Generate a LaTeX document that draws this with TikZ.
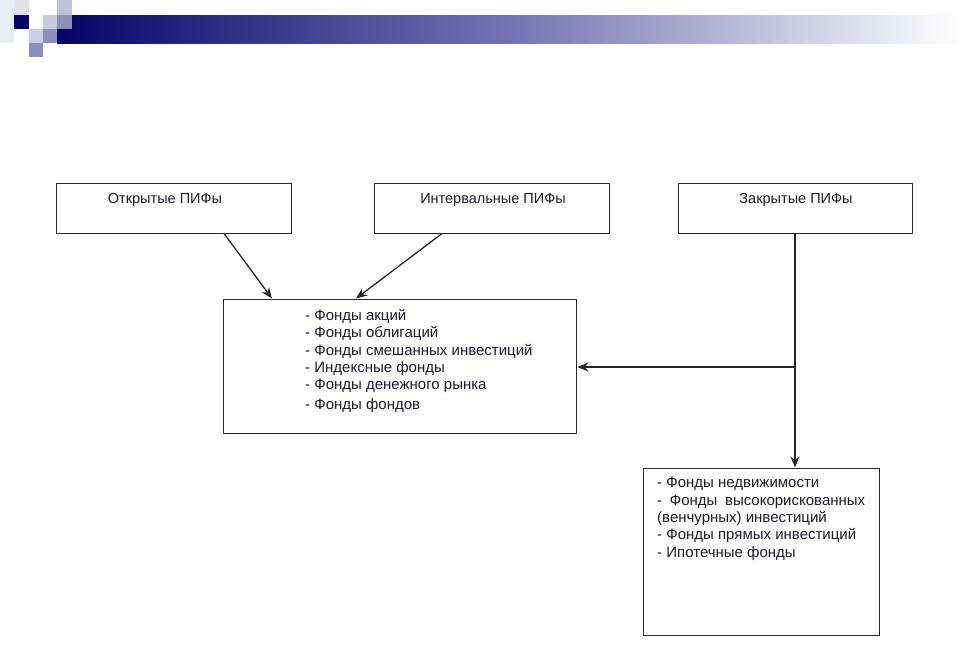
\documentclass[tikz,border=0pt]{standalone}
\usepackage{fontspec}
\setmainfont{Liberation Sans}
\usetikzlibrary{arrows.meta}
\definecolor{navy}{RGB}{5,5,105}
\definecolor{midbar}{RGB}{115,115,180}
\definecolor{boxline}{RGB}{40,40,40}
\definecolor{txt}{RGB}{30,25,40}
\tikzset{
  boxnode/.style={draw=boxline, line width=1.4pt, fill=white, inner sep=0pt, anchor=north west},
  title/.style={font=\fontsize{14.5}{16}\selectfont, text=txt, inner sep=0pt},
  listtext/.style={font=\fontsize{15}{17.4}\selectfont, text=txt, inner sep=0pt, align=left, anchor=north west},
  conn/.style={draw=black!85, line width=1.3pt, -{Stealth[length=11pt,width=9pt]}},
}
\begin{document}
\begin{tikzpicture}[x=1pt,y=-1pt]
\useasboundingbox (0,0) rectangle (960,656);
\fill[white] (0,0) rectangle (960,656);
% banner
\shade[left color=navy, right color=white, middle color=midbar] (57,15) rectangle (960,43);
\fill[navy!8] (0,0) rectangle (14,43);
\fill[navy!12] (14,0) rectangle (29,15);
\fill[navy] (14,15) rectangle (29,29);
\fill[navy!25] (57,0) rectangle (72,15);
\fill[navy!22] (43,15) rectangle (57,29);
\fill[navy!45] (57,15) rectangle (72,29);
\fill[navy!20] (29,29) rectangle (43,43);
\fill[navy!45] (43,29) rectangle (57,43);
\fill[navy!45] (29,43) rectangle (43,57);
% boxes
\node[boxnode, minimum width=235pt, minimum height=50pt] (open) at (56,183) {};
\node[boxnode, minimum width=235pt, minimum height=50pt] (interval) at (374,183) {};
\node[boxnode, minimum width=234pt, minimum height=50pt] (closed) at (678,183) {};
\node[boxnode, minimum width=353pt, minimum height=134pt] (mid) at (223,299) {};
\node[boxnode, minimum width=236pt, minimum height=167pt] (bottom) at (643,468) {};
% titles
\node[title] (topen) at (165,200) {Открытые ПИФы};
\node[title] (tinterval) at (493,200) {Интервальные ПИФы};
\node[title] (tclosed) at (796,200) {Закрытые ПИФы};
% lists
\node[listtext] (lmid) at (305,309) {- Фонды акций\\- Фонды облигаций\\- Фонды смешанных инвестиций\\- Индексные фонды\\- Фонды денежного рынка\\[2.5pt]- Фонды фондов};
\node[listtext] (lbottom) at (657,477) {- Фонды недвижимости\\\makebox[208pt][s]{- \ Фонды \ высокорискованных}\\(венчурных) инвестиций\\- Фонды прямых инвестиций\\- Ипотечные фонды};
% connectors
\coordinate (s1) at (224,233.5);
\coordinate (e1) at (272,298.5);
\coordinate (s2) at (442,233.5);
\coordinate (e2) at (356,298.5);
\coordinate (s3) at (795,233.5);
\coordinate (j3) at (795,367);
\coordinate (e3) at (795,467.5);
\draw[conn] (s1) -- (e1);
\draw[conn] (s2) -- (e2);
\draw[conn] (s3) -- (e3);
\draw[conn] (j3) -- (mid.east |- j3);
\end{tikzpicture}
\end{document}
